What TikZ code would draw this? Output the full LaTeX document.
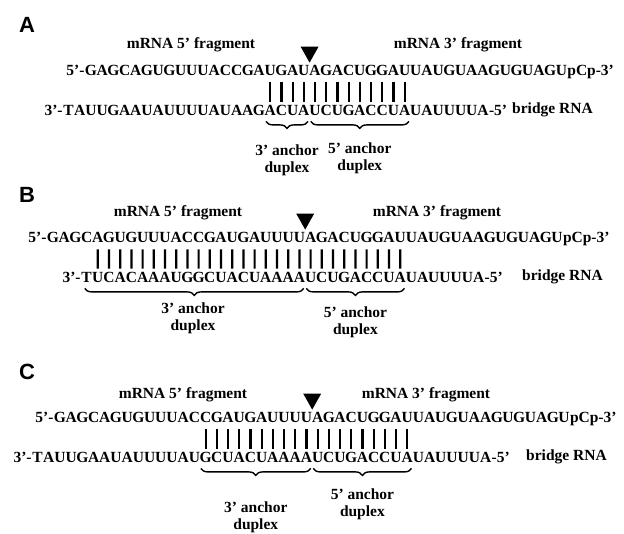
\documentclass[tikz,border=0pt]{standalone}
\usepackage{fontspec}
\setmainfont{Liberation Serif}
\newfontfamily\panelfont{Liberation Sans}
\usetikzlibrary{decorations.pathreplacing,calc}
\def\pitch{11.2}
\newcommand\strandrow[4]{%
  \foreach \b [count=\i from 0] in {#4} {
    \node[base] (#1\i) at ({#2+\i*\pitch},#3) {\b};
  }}
\begin{document}
\begin{tikzpicture}[x=1pt,y=-1pt,
  base/.style={inner sep=0pt, minimum width=\pitch pt, text height=10.4pt, text depth=0pt,
    font=\fontsize{15.5}{17}\selectfont\bfseries},
  endtext/.style={inner sep=0pt, font=\fontsize{15.5}{17}\selectfont\bfseries},
  lbl/.style={inner sep=0pt, font=\fontsize{15.5}{17}\selectfont\bfseries},
  duplexlbl/.style={inner sep=0pt, align=center, font=\fontsize{15.5}{17}\selectfont\bfseries},
  panel/.style={inner sep=0pt, font=\panelfont\bfseries\fontsize{22}{22}\selectfont},
  bar/.style={line width=2.2pt},
  curly/.style={decorate, decoration={brace, mirror, amplitude=7pt}, line width=1.4pt},
  cut/.style={fill=black}]
\useasboundingbox (0,0) rectangle (624,533);

% ---------------- Panel A ----------------
\node[panel] (pA) at (27,25) {A};
\node[lbl] (f5A) at (191,45) {mRNA 5' fragment};
\node[lbl] (f3A) at (458,45) {mRNA 3' fragment};
\strandrow{tA}{91}{70}{G,A,G,C,A,G,U,G,U,U,U,A,C,C,G,A,U,G,A,U,A,G,A,C,U,G,G,A,U,U,A,U,G,U,A,A,G,U,G,U,A,G,U}
\node[endtext, anchor=base east] (tApre) at (tA0.base west) {5'-};
\node[endtext, anchor=base west] (tAsuf) at (tA42.base east) {pCp-3'};
\strandrow{bA}{68.6}{110}{T,A,U,U,G,A,A,U,A,U,U,U,U,A,U,A,A,G,A,C,U,A,U,C,U,G,A,C,C,U,A,U,A,U,U,U,U,A}
\node[endtext, anchor=base east] (bApre) at (bA0.base west) {3'-};
\node[endtext, anchor=base west] (bAsuf) at (bA37.base east) {-5'};
\node[lbl, anchor=west] (brA) at (512,110) {bridge RNA};
\foreach \i in {16,...,28} {\pgfmathtruncatemacro\j{\i+2}
  \draw[bar] ([yshift=-7pt]tA\i.south) -- ([yshift=3pt]bA\j.north);}
\fill[cut] ([xshift=-9pt,yshift=18pt]tA19.north east) -- ([xshift=9pt,yshift=18pt]tA19.north east) -- ([yshift=2pt]tA19.north east) -- cycle;
\draw[curly] ([xshift=1.5pt,yshift=-6pt]bA18.south west) -- ([xshift=-1.5pt,yshift=-6pt]bA21.south east);
\draw[curly] ([xshift=1.5pt,yshift=-6pt]bA22.south west) -- ([xshift=-1.5pt,yshift=-6pt]bA30.south east);
\node[duplexlbl] (dA3) at ($(bA18.south west)!0.5!(bA21.south east)+(0,45)$) {3' anchor\\duplex};
\node[duplexlbl] (dA5) at ($(bA22.south west)!0.5!(bA30.south east)+(0,43)$) {5' anchor\\duplex};

% ---------------- Panel B ----------------
\node[panel] (pB) at (27,195) {B};
\node[lbl] (f5B) at (178,213) {mRNA 5' fragment};
\node[lbl] (f3B) at (437,213) {mRNA 3' fragment};
\strandrow{tB}{53}{237}{G,A,G,C,A,G,U,G,U,U,U,A,C,C,G,A,U,G,A,U,U,U,U,A,G,A,C,U,G,G,A,U,U,A,U,G,U,A,A,G,U,G,U,A,G,U}
\node[endtext, anchor=base east] (tBpre) at (tB0.base west) {5'-};
\node[endtext, anchor=base west] (tBsuf) at (tB45.base east) {pCp-3'};
\strandrow{bB}{86.6}{277}{T,U,C,A,C,A,A,A,U,G,G,C,U,A,C,U,A,A,A,A,U,C,U,G,A,C,C,U,A,U,A,U,U,U,U,A}
\node[endtext, anchor=base east] (bBpre) at (bB0.base west) {3'-};
\node[endtext, anchor=base west] (bBsuf) at (bB35.base east) {-5'};
\node[lbl, anchor=west] (brB) at (522,277) {bridge RNA};
\foreach \i in {4,...,31} {\pgfmathtruncatemacro\j{\i-3}
  \draw[bar] ([yshift=-7pt]tB\i.south) -- ([yshift=3pt]bB\j.north);}
\fill[cut] ([xshift=-9pt,yshift=18pt]tB22.north east) -- ([xshift=9pt,yshift=18pt]tB22.north east) -- ([yshift=2pt]tB22.north east) -- cycle;
\draw[curly] ([xshift=4pt,yshift=-6pt]bB0.south west) -- ([xshift=-1.5pt,yshift=-6pt]bB19.south east);
\draw[curly] ([xshift=1.5pt,yshift=-6pt]bB20.south west) -- ([xshift=-1.5pt,yshift=-6pt]bB28.south east);
\node[duplexlbl] (dB3) at ($(bB0.south west)!0.5!(bB19.south east)+(0,36)$) {3' anchor\\duplex};
\node[duplexlbl] (dB5) at ($(bB20.south west)!0.5!(bB28.south east)+(0,40)$) {5' anchor\\duplex};

% ---------------- Panel C ----------------
\node[panel] (pC) at (27,372) {C};
\node[lbl] (f5C) at (183,395) {mRNA 5' fragment};
\node[lbl] (f3C) at (426,395) {mRNA 3' fragment};
\strandrow{tC}{60}{417}{G,A,G,C,A,G,U,G,U,U,U,A,C,C,G,A,U,G,A,U,U,U,U,A,G,A,C,U,G,G,A,U,U,A,U,G,U,A,A,G,U,G,U,A,G,U}
\node[endtext, anchor=base east] (tCpre) at (tC0.base west) {5'-};
\node[endtext, anchor=base west] (tCsuf) at (tC45.base east) {pCp-3'};
\strandrow{bC}{37.6}{457}{T,A,U,U,G,A,A,U,A,U,U,U,U,A,U,G,C,U,A,C,U,A,A,A,A,U,C,U,G,A,C,C,U,A,U,A,U,U,U,U,A}
\node[endtext, anchor=base east] (bCpre) at (bC0.base west) {3'-};
\node[endtext, anchor=base west] (bCsuf) at (bC40.base east) {-5'};
\node[lbl, anchor=west] (brC) at (526,457) {bridge RNA};
\foreach \i in {13,...,31} {\pgfmathtruncatemacro\j{\i+2}
  \draw[bar] ([yshift=-7pt]tC\i.south) -- ([yshift=3pt]bC\j.north);}
\fill[cut] ([xshift=-9pt,yshift=18pt]tC22.north east) -- ([xshift=9pt,yshift=18pt]tC22.north east) -- ([yshift=2pt]tC22.north east) -- cycle;
\draw[curly] ([xshift=1.5pt,yshift=-6pt]bC15.south west) -- ([xshift=-1.5pt,yshift=-6pt]bC24.south east);
\draw[curly] ([xshift=1.5pt,yshift=-6pt]bC25.south west) -- ([xshift=-1.5pt,yshift=-6pt]bC33.south east);
\node[duplexlbl] (dC3) at ($(bC15.south west)!0.5!(bC24.south east)+(0,55)$) {3' anchor\\duplex};
\node[duplexlbl] (dC5) at ($(bC25.south west)!0.5!(bC33.south east)+(0,42)$) {5' anchor\\duplex};
\end{tikzpicture}
\end{document}
